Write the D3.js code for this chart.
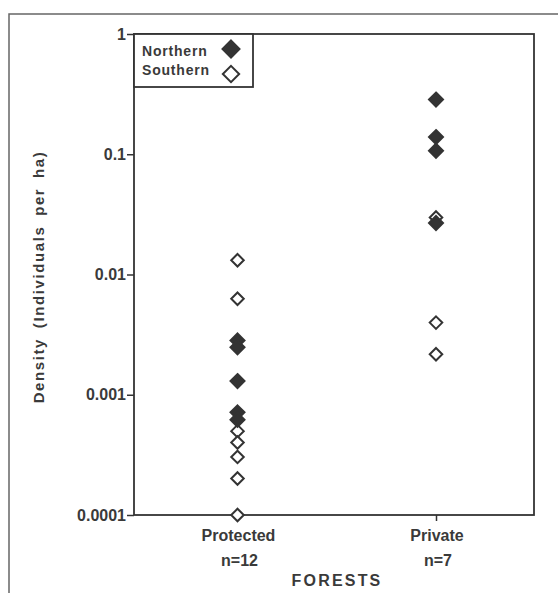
<!DOCTYPE html>
<html>
<head>
<meta charset="utf-8">
<script src="https://cdn.jsdelivr.net/npm/d3@7"></script>
<style>
  body { margin: 0; background: #fff; }
  text { font-family: "Liberation Sans", Arial, Helvetica, sans-serif; font-weight: bold; fill: #3a3a3a; }
</style>
</head>
<body>
<svg id="chart" width="558" height="593"></svg>
<script>
// forest categories and labels
var forests = ["Protected", "Private"];
var sampleSizes = ["n=12", "n=7"];

// density values (individuals per ha)
var northernProtected = [0.00283, 0.00248, 0.0013, 0.000714, 0.00062];
var southernProtected = [0.01315, 0.00628, 0.000498, 0.000401, 0.000304, 0.000201, 0.0001];
var northernPrivate = [0.285, 0.139, 0.107, 0.0268];
var southernPrivate = [0.0298, 0.00398, 0.00217];

var yTicks = [1, 0.1, 0.01, 0.001, 0.0001];
var yTickLabels = ["1", "0.1", "0.01", "0.001", "0.0001"];

var svg = d3.select("#chart");
var ink = "#333";

var plot = {left: 134, right: 534, top: 34, bottom: 515};

var x = d3.scalePoint().domain(forests).range([237.5, 436]);
var y = d3.scaleLog().domain([0.0001, 1]).range([plot.bottom, plot.top]);

// outer frame (top and left edges visible)
svg.append("path")
    .attr("d", "M9,593 L9,14 L558,14")
    .attr("fill", "none").attr("stroke", "#666").attr("stroke-width", 1.5);

// plot box
svg.append("rect")
    .attr("x", plot.left).attr("y", plot.top)
    .attr("width", plot.right - plot.left).attr("height", plot.bottom - plot.top)
    .attr("fill", "none").attr("stroke", ink).attr("stroke-width", 1.8);

// y axis
var yAxis = d3.axisLeft(y)
    .tickValues(yTicks)
    .tickFormat(function(d, i){ return yTickLabels[i]; })
    .tickSize(7).tickPadding(1);
var gy = svg.append("g").attr("transform", "translate(" + plot.left + ",0)").call(yAxis);
gy.select(".domain").remove();
gy.selectAll(".tick line").attr("stroke", ink).attr("stroke-width", 1.5);
gy.selectAll(".tick text").attr("font-size", 16).attr("fill", "#3a3a3a")
    .attr("font-family", "Liberation Sans, Arial, sans-serif");

// x axis
var xAxis = d3.axisBottom(x).tickSize(6).tickFormat("");
var gx = svg.append("g").attr("transform", "translate(0," + plot.bottom + ")").call(xAxis);
gx.select(".domain").remove();
gx.selectAll(".tick line").attr("stroke", ink).attr("stroke-width", 1.5);

forests.forEach(function(f, i){
    svg.append("text").attr("x", x(f) + 1).attr("y", 541)
        .attr("text-anchor", "middle").attr("font-size", 16).text(f);
    svg.append("text").attr("x", x(f) + 2).attr("y", 566)
        .attr("text-anchor", "middle").attr("font-size", 16).text(sampleSizes[i]);
});

svg.append("text").attr("x", 337).attr("y", 586)
    .attr("text-anchor", "middle").attr("font-size", 16)
    .attr("letter-spacing", 2.2).text("FORESTS");

svg.append("text")
    .attr("transform", "translate(44," + 277 + ") rotate(-90)")
    .attr("text-anchor", "middle").attr("font-size", 15)
    .attr("word-spacing", 4).attr("letter-spacing", 1.6)
    .text("Density (Individuals per ha)");

// diamond marker
var diamond = d3.symbol().type(d3.symbolDiamond2);

function drawGroup(values, forest, filled, size) {
    svg.append("g").selectAll("path").data(values).enter()
        .append("path")
        .attr("d", diamond.size(size)())
        .attr("transform", function(d){ return "translate(" + x(forest) + "," + y(d) + ")"; })
        .attr("fill", filled ? ink : "#fff")
        .attr("stroke", ink).attr("stroke-width", 2);
}

drawGroup(southernProtected, "Protected", false, 100);
drawGroup(northernProtected, "Protected", true, 125);
drawGroup(southernPrivate, "Private", false, 100);
drawGroup(northernPrivate, "Private", true, 125);

// legend
var legend = svg.append("g");
legend.append("rect")
    .attr("x", plot.left).attr("y", plot.top)
    .attr("width", 119).attr("height", 53)
    .attr("fill", "#fff").attr("stroke", ink).attr("stroke-width", 1.8);
legend.append("text").attr("x", 142).attr("y", 56).attr("font-size", 14)
    .attr("letter-spacing", 0.8).text("Northern");
legend.append("text").attr("x", 142).attr("y", 75).attr("font-size", 14)
    .attr("letter-spacing", 0.8).text("Southern");
legend.append("path").attr("d", diamond.size(190)())
    .attr("transform", "translate(231,49)")
    .attr("fill", ink).attr("stroke", ink).attr("stroke-width", 1.8);
legend.append("path").attr("d", diamond.size(170)())
    .attr("transform", "translate(231,74)")
    .attr("fill", "#fff").attr("stroke", ink).attr("stroke-width", 2);
</script>
</body>
</html>
